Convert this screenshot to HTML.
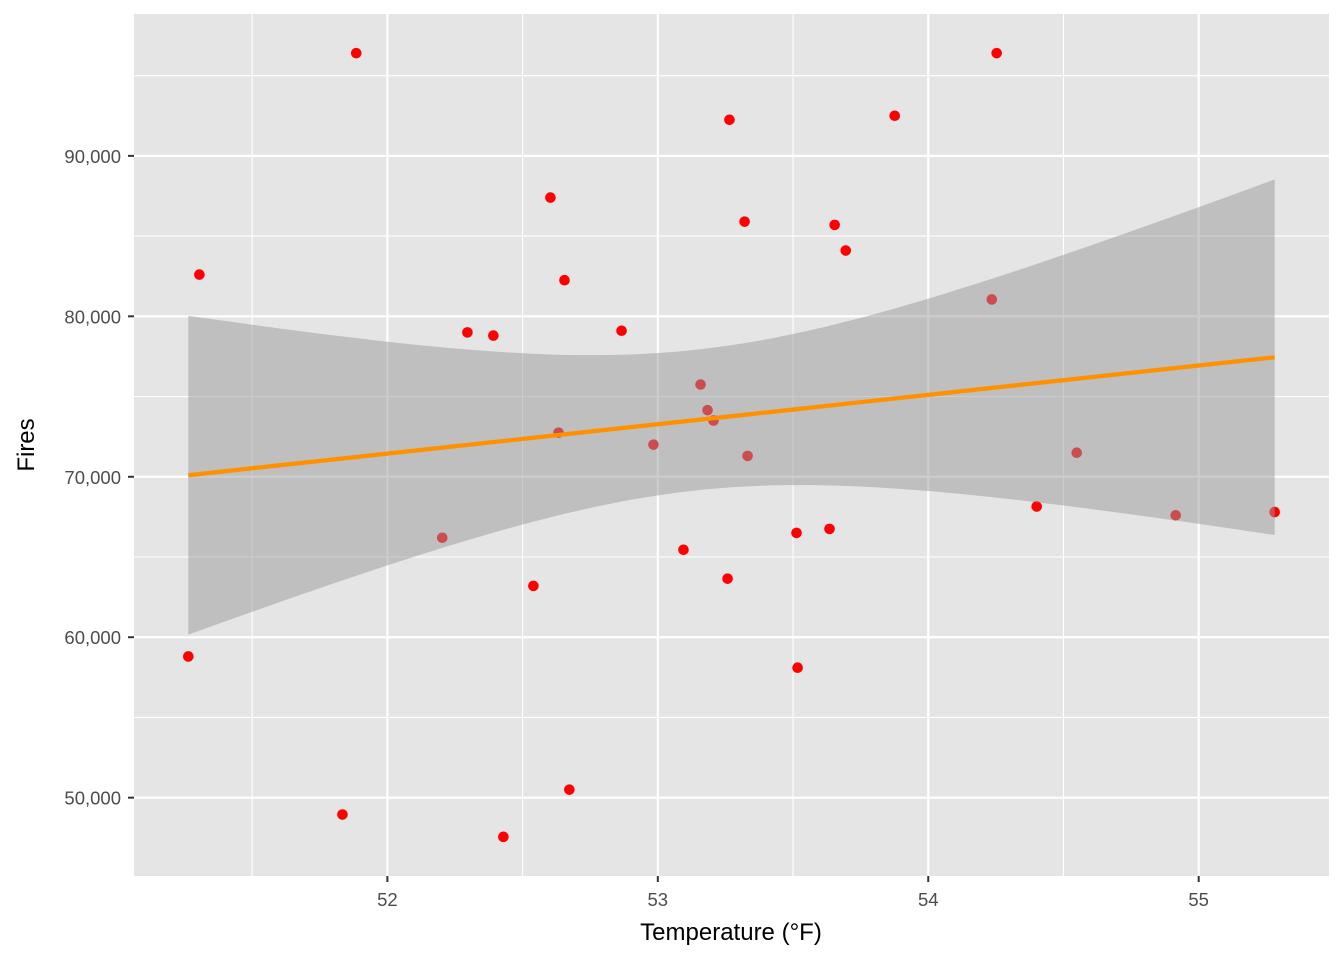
<!DOCTYPE html>
<html><head><meta charset="utf-8"><style>
html,body{margin:0;padding:0;background:#fff;}
svg{display:block;font-family:"Liberation Sans",Arial,sans-serif;}
</style></head><body>
<svg id="chart" width="1344" height="960">
<rect x="134" y="14" width="1195" height="862" fill="#E5E5E5"/>
<g id="grid"></g><g id="pts"></g><g id="smooth"></g><g id="axes"></g>
<text x="731" y="940" font-size="24" text-anchor="middle" fill="#000">Temperature (°F)</text>
<text transform="translate(34,445) rotate(-90)" font-size="24" text-anchor="middle" fill="#000">Fires</text>
</svg>
<script>
const temps=[51.264,51.305,51.885,51.834,52.203,52.296,52.392,52.429,52.540,52.603,52.633,52.655,52.673,52.866,52.984,53.095,53.158,53.184,53.206,53.258,53.265,53.321,53.332,53.513,53.517,53.635,53.654,53.695,53.876,54.235,54.253,54.401,54.549,54.915,55.281];
const fires=[58800,82600,96400,48950,66200,79000,78800,47560,63200,87400,72750,82250,50500,79100,72000,65450,75750,74150,73500,63650,92250,85900,71300,66500,58100,66750,85700,84100,92500,81050,96400,68150,71500,67600,67800];
const xTicks=[52,53,54,55];
const yTicks=[50000,60000,70000,80000,90000];
const NS='http://www.w3.org/2000/svg';
function mk(tag,attrs,parent){const e=document.createElementNS(NS,tag);for(const k in attrs)e.setAttribute(k,attrs[k]);parent.appendChild(e);return e;}
const n=temps.length;
const mx=temps.reduce((a,b)=>a+b)/n, my=fires.reduce((a,b)=>a+b)/n;
let sxx=0,sxy=0;for(let i=0;i<n;i++){sxx+=(temps[i]-mx)**2;sxy+=(temps[i]-mx)*(fires[i]-my);}
const b1=sxy/sxx,b0=my-b1*mx;
let sse=0;for(let i=0;i<n;i++)sse+=(fires[i]-b0-b1*temps[i])**2;
const s=Math.sqrt(sse/(n-2)),tq=2.035;
const xmin=Math.min(...temps),xmax=Math.max(...temps);
const band=[];for(let k=0;k<=80;k++){const x=xmin+(xmax-xmin)*k/80;const f=b0+b1*x;const se=s*Math.sqrt(1/n+(x-mx)**2/sxx);band.push([x,f,f-tq*se,f+tq*se]);}
let ylo=Math.min(...fires,...band.map(d=>d[2])),yhi=Math.max(...fires,...band.map(d=>d[3]));
const xr=xmax-xmin,yr=yhi-ylo;
const X0=xmin-0.05*xr,X1=xmax+0.05*xr,Y0=ylo-0.05*yr,Y1=yhi+0.05*yr;
const L=134,R=1329,T=14,B=876;
const sx=v=>L+(v-X0)/(X1-X0)*(R-L), sy=v=>B-(v-Y0)/(Y1-Y0)*(B-T);
const grid=document.getElementById('grid'),axes=document.getElementById('axes');
for(let i=0;i<xTicks.length;i++){const t=xTicks[i];
 const m=t-0.5; if(m>X0&&m<X1){const g=mk('line',{x1:sx(m),x2:sx(m),y1:T,y2:B,stroke:'#fff','stroke-width':1.1},grid);}
 const g=mk('line',{x1:sx(t),x2:sx(t),y1:T,y2:B,stroke:'#fff','stroke-width':2.2},grid);
 const tk=mk('line',{x1:sx(t),x2:sx(t),y1:B,y2:B+6,stroke:'#333','stroke-width':2},axes);
 const tx=mk('text',{x:sx(t),y:B+30,'font-size':18.5,'text-anchor':'middle',fill:'#4D4D4D'},axes);tx.textContent=t;}
{const m=xTicks[xTicks.length-1]+0.5;if(m<X1){const g=mk('line',{x1:sx(m),x2:sx(m),y1:T,y2:B,stroke:'#fff','stroke-width':1.1},grid);}}
for(let i=0;i<yTicks.length;i++){const t=yTicks[i];
 for(const m of [t-5000,t+5000]){ if(m>Y0&&m<Y1&&(m===t-5000||i===yTicks.length-1)){const g=mk('line',{x1:L,x2:R,y1:sy(m),y2:sy(m),stroke:'#fff','stroke-width':1.1},grid);}}
 const g=mk('line',{x1:L,x2:R,y1:sy(t),y2:sy(t),stroke:'#fff','stroke-width':2.2},grid);
 const tk=mk('line',{x1:L-6,x2:L,y1:sy(t),y2:sy(t),stroke:'#333','stroke-width':2},axes);
 const tx=mk('text',{x:L-13,y:sy(t)+7,'font-size':18.5,'text-anchor':'end',fill:'#4D4D4D'},axes);tx.textContent=t.toLocaleString('en-US');}
const pts=document.getElementById('pts');
for(let i=0;i<n;i++){const c=mk('circle',{cx:sx(temps[i]),cy:sy(fires[i]),r:5.3,fill:'#FF0000'},pts);}
const sm=document.getElementById('smooth');
let d='M'+band.map(b=>sx(b[0])+','+sy(b[3])).join('L')+'L'+band.slice().reverse().map(b=>sx(b[0])+','+sy(b[2])).join('L')+'Z';
const rb=mk('path',{d:d,fill:'#999999','fill-opacity':0.5},sm);
const ln=mk('line',{x1:sx(xmin),y1:sy(b0+b1*xmin),x2:sx(xmax),y2:sy(b0+b1*xmax),stroke:'#FF9000','stroke-width':4.3},sm);
</script>
</body></html>
